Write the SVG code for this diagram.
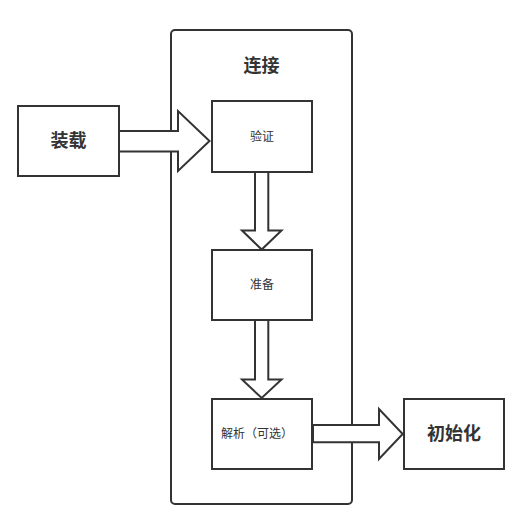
<svg xmlns="http://www.w3.org/2000/svg" width="522" height="530" viewBox="0 0 522 530">
<style>
.box{fill:#fff;stroke:#333;stroke-width:2}
.arr{fill:#fff;stroke:#333;stroke-width:2;stroke-linejoin:miter}
.t{font-family:"Liberation Sans","Noto Sans CJK SC",sans-serif;fill:#333;text-anchor:middle;dominant-baseline:central}
.b{font-size:18px;font-weight:bold}
.s{font-size:12px}
</style>
<rect width="522" height="530" fill="#fff"/>
<g id="container">
<rect class="box" x="171" y="30" width="181" height="474" rx="4"/>
<text class="t b" x="261.5" y="66">连接</text>
</g>
<g id="load"><rect class="box" x="18" y="106" width="101" height="70"/><text class="t b" x="68.5" y="141">装载</text></g>
<g id="verify"><rect class="box" x="212" y="101" width="100" height="71"/><text class="t s" x="262" y="137">验证</text></g>
<g id="prepare"><rect class="box" x="212" y="250" width="100" height="70"/><text class="t s" x="262" y="285">准备</text></g>
<g id="resolve"><rect class="box" x="212" y="399" width="100" height="70"/><text class="t s" x="257" y="434">解析（可选）</text></g>
<g id="init"><rect class="box" x="404" y="399" width="100" height="70"/><text class="t b" x="454" y="434">初始化</text></g>
<g id="connectors">
<path class="arr" d="M119,131 H178 V111 L209.5,141 L178,171 V151.5 H119 Z"/>
<path class="arr" d="M255,172 V230.5 H242 L261.7,249.5 L281.5,230.5 H268.3 V172 Z"/>
<path class="arr" d="M255,320 V379.5 H242 L261.7,398 L281.5,379.5 H268.3 V320 Z"/>
<path class="arr" d="M313,425 H379 V409 L402.7,434 L379,459 V442.3 H313 Z"/>
</g>
</svg>
